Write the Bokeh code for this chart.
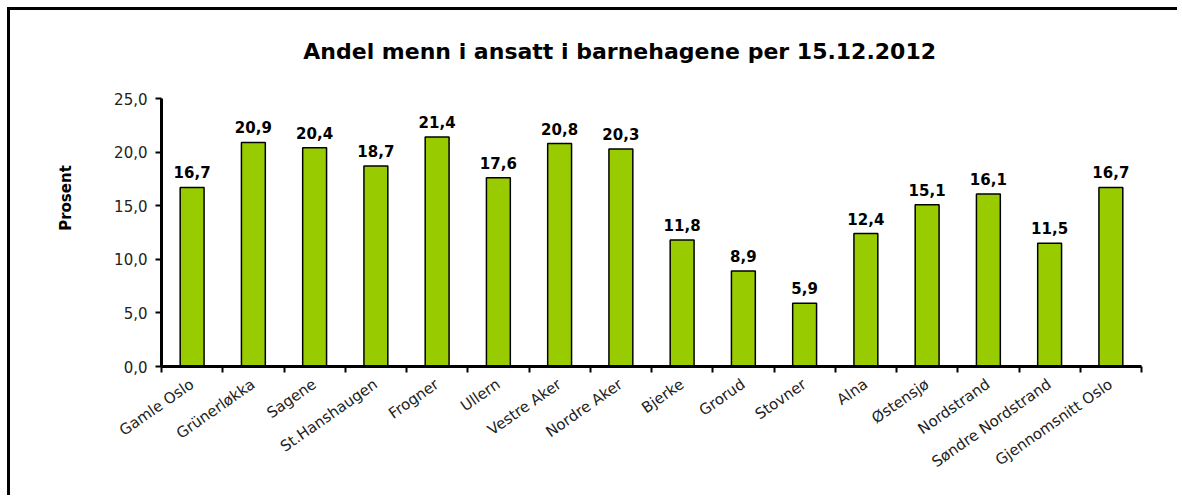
from bokeh.plotting import figure
from bokeh.models import Range1d, FixedTicker, Label, ColumnDataSource, LinearAxis
from bokeh.embed import file_html
from bokeh.resources import INLINE
from bokeh.core.properties import value

districts = ["Gamle Oslo", "Grünerløkka", "Sagene", "St.Hanshaugen", "Frogner", "Ullern",
             "Vestre Aker", "Nordre Aker", "Bjerke", "Grorud", "Stovner", "Alna",
             "Østensjø", "Nordstrand", "Søndre Nordstrand", "Gjennomsnitt Oslo"]
shares = [16.7, 20.9, 20.4, 18.7, 21.4, 17.6, 20.8, 20.3, 11.8, 8.9, 5.9, 12.4, 15.1, 16.1, 11.5, 16.7]
y_ticks = [0, 5, 10, 15, 20, 25]
title_text = "Andel menn i ansatt i barnehagene per 15.12.2012"
y_label = "Prosent"


def fmt(v):
    return f"{v:.1f}".replace(".", ",")


n = len(districts)
centers = [i + 0.5 for i in range(n)]
edges = list(range(n + 1))

src = ColumnDataSource(dict(x=centers, top=shares, label=[fmt(v) for v in shares]))

p = figure(width=1170, height=488, output_backend="svg", toolbar_location=None,
           x_range=Range1d(0, n), y_range=Range1d(0, 31.44), title=None,
           min_border_left=151, min_border_right=39, min_border_top=19, min_border_bottom=132,
           x_axis_type=None, y_axis_type=None)
p.outline_line_color = None
p.background_fill_color = "white"
p.border_fill_color = "white"
p.styles = {"border-left": "3px solid black", "border-top": "3px solid black",
            "margin-left": "7px", "margin-top": "7px"}

yax = LinearAxis(ticker=FixedTicker(ticks=y_ticks), bounds=(0, 25),
                 axis_line_width=3, axis_line_color="black",
                 major_tick_line_width=2, major_tick_out=6, major_tick_in=0,
                 minor_tick_line_color=None,
                 major_label_overrides={t: fmt(t) for t in y_ticks},
                 major_label_text_font="DejaVu Sans", major_label_text_font_size="15px",
                 major_label_text_color="#222222", major_label_standoff=8,
                 axis_label=y_label, axis_label_text_font="DejaVu Sans",
                 axis_label_text_font_style="bold", axis_label_text_font_size="15px",
                 axis_label_text_color="black", axis_label_standoff=36)
p.add_layout(yax, "left")

xax = LinearAxis(ticker=FixedTicker(ticks=centers, minor_ticks=edges),
                 axis_line_width=3, axis_line_color="black",
                 major_tick_line_color=None, major_tick_out=0, major_tick_in=0,
                 minor_tick_line_color="black", minor_tick_line_width=2,
                 minor_tick_out=6, minor_tick_in=0,
                 major_label_overrides={c: d for c, d in zip(centers, districts)},
                 major_label_orientation=0.61, major_label_standoff=10,
                 major_label_text_font="DejaVu Sans", major_label_text_font_size="15px",
                 major_label_text_color="#222222")
p.add_layout(xax, "below")

p.vbar(x="x", top="top", width=0.39, source=src, fill_color="#99CC00",
       line_color="black", line_width=1.5)

p.text(x="x", y="top", text="label", source=src, text_align="center",
       text_baseline="bottom", y_offset=-9, text_font=value("DejaVu Sans"),
       text_font_style="bold", text_font_size="15px", text_color="black")

p.add_layout(Label(x=7.48, y=29.38, text=title_text, text_align="center",
                   text_baseline="alphabetic", text_font="DejaVu Sans",
                   text_font_style="bold", text_font_size="22px", text_color="black"))

open("out.html", "w").write(file_html(p, INLINE))
